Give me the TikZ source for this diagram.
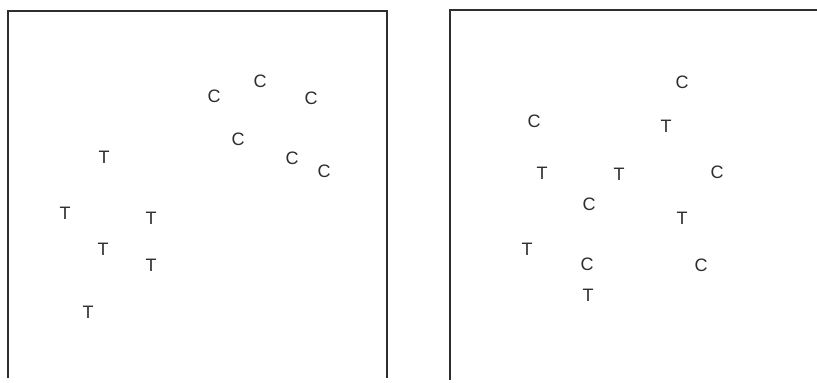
\documentclass[tikz,border=0pt]{standalone}
\usepackage{fontspec}
\setmainfont{Liberation Sans}
\definecolor{ink}{HTML}{2E2E2E}
\begin{document}
\begin{tikzpicture}[x=1pt,y=-1pt,
  lbl/.style={inner sep=0pt,font=\fontsize{18}{18}\selectfont,text=ink},
  frame/.style={draw=ink,line width=2pt}]
\useasboundingbox[fill=white] (0,0) rectangle (817,383);
% left frame
\coordinate (l1) at (8,378);
\coordinate (l2) at (8,11);
\coordinate (l3) at (387,11);
\coordinate (l4) at (387,378);
\draw[frame] (l1) -- (l2) -- (l3) -- (l4);
% right frame
\coordinate (r1) at (450,380);
\coordinate (r2) at (450,10);
\coordinate (r3) at (818,10);
\draw[frame] (r1) -- (r2) -- (r3);
% left letters
\node[lbl] (a1) at (214,96) {C};
\node[lbl] (a2) at (260,81) {C};
\node[lbl] (a3) at (311,98) {C};
\node[lbl] (a4) at (238,139) {C};
\node[lbl] (a5) at (292,158) {C};
\node[lbl] (a6) at (324,171) {C};
\node[lbl] (a7) at (104,157) {T};
\node[lbl] (a8) at (65,213) {T};
\node[lbl] (a9) at (151,218) {T};
\node[lbl] (a10) at (103,249) {T};
\node[lbl] (a11) at (151,265) {T};
\node[lbl] (a12) at (88,312) {T};
% right letters
\node[lbl] (b1) at (682,82) {C};
\node[lbl] (b2) at (534,121) {C};
\node[lbl] (b3) at (666,126) {T};
\node[lbl] (b4) at (542,173) {T};
\node[lbl] (b5) at (619,174) {T};
\node[lbl] (b6) at (717,172) {C};
\node[lbl] (b7) at (589,204) {C};
\node[lbl] (b8) at (682,218) {T};
\node[lbl] (b9) at (527,249) {T};
\node[lbl] (b10) at (587,264) {C};
\node[lbl] (b11) at (701,265) {C};
\node[lbl] (b12) at (588,295) {T};
\end{tikzpicture}
\end{document}
